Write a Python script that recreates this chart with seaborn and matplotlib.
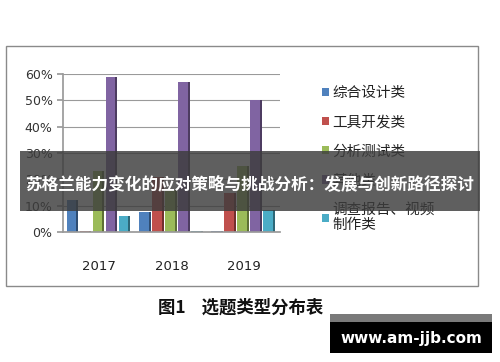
import matplotlib
matplotlib.use("Agg")
import matplotlib.pyplot as plt
import seaborn as sns
import pandas as pd
from matplotlib.patches import Rectangle

years = ["2017", "2018", "2019"]
categories = ["综合设计类", "工具开发类", "分析测试类", "其他类", "调查报告、视频\n制作类"]
values = {
    "综合设计类": [12, 7.5, 0.3],
    "工具开发类": [0.5, 21, 15],
    "分析测试类": [23, 16, 25],
    "其他类": [59, 57, 50],
    "调查报告、视频\n制作类": [6, 0.3, 8.5],
}
colors = ["#4F81BD", "#C0504D", "#9BBB59", "#8064A2", "#4BACC6"]
yticks = [0, 10, 20, 30, 40, 50, 60]
caption = "图1    选题类型分布表"
banner_text = "苏格兰能力变化的应对策略与挑战分析：发展与创新路径探讨"
site = "www.am-jjb.com"

rows = []
for c in categories:
    for y, v in zip(years, values[c]):
        rows.append({"year": y, "cat": c, "val": v})
df = pd.DataFrame(rows)

sns.set_theme(style="white")
plt.rcParams["font.family"] = ["Noto Sans CJK SC", "DejaVu Sans"]

W, H = 500, 362
fig = plt.figure(figsize=(W / 100, H / 100), dpi=100)
fig.patch.set_facecolor("white")

def fx(px):
    return px / W

def fy(py):
    return 1 - py / H

# outer frame
fig.patches.append(Rectangle((fx(6), fy(286)), fx(478) - fx(6), fy(46) - fy(286),
                             transform=fig.transFigure, fill=False,
                             edgecolor="#8a8a8a", linewidth=1.0, zorder=0))

ax = fig.add_axes([fx(63), fy(232), fx(280) - fx(63), fy(74) - fy(232)])
sns.barplot(data=df, x="year", y="val", hue="cat", palette=colors, ax=ax,
            width=0.9, edgecolor="none", saturation=1, legend=True)
ax.set_ylim(0, 60)
ax.set_yticks(yticks)
ax.set_yticklabels([f"{t}%" for t in yticks], fontsize=9, color="#333333",
                   family="DejaVu Sans")
ax.tick_params(axis="x", labelsize=9.5, colors="#222222", pad=14)
for lab in ax.get_xticklabels():
    lab.set_family("DejaVu Sans")
ax.set_xlabel("")
ax.set_ylabel("")
ax.yaxis.grid(True, color="#9a9a9a", linewidth=0.8)
ax.set_axisbelow(True)
for s in ["top", "right"]:
    ax.spines[s].set_visible(False)
ax.spines["left"].set_color("#9a9a9a")
ax.spines["bottom"].set_color("#9a9a9a")
ax.tick_params(axis="y", length=4, color="#9a9a9a", left=True)

# narrow the bars and add a darker side face for a 3D-like look
bars = [p for p in ax.patches if isinstance(p, Rectangle)]
for p in bars:
    x0 = p.get_x(); w = p.get_width(); h = p.get_height()
    fw = w * 0.74
    sw = w * 0.16
    p.set_width(fw)
    fc = p.get_facecolor()
    dark = tuple(c * 0.6 for c in fc[:3]) + (1,)
    if h > 0:
        ax.add_patch(Rectangle((x0 + fw, 0), sw, h, facecolor=dark,
                               edgecolor="none", zorder=p.get_zorder()))

leg = ax.legend(loc="upper left", bbox_to_anchor=(fx(316), fy(80)),
                bbox_transform=fig.transFigure, frameon=False, fontsize=10.5,
                labelspacing=1.05, handlelength=0.5, handleheight=0.5,
                handletextpad=0.2, borderaxespad=0)
for t in leg.get_texts():
    t.set_color("#222222")
    t.set_linespacing(1.1)

# caption
fig.text(fx(241), fy(308), caption, ha="center", va="center", fontsize=12.5,
         color="#111111", fontweight="bold")

# banner overlay
fig.patches.append(Rectangle((fx(20), fy(211)), fx(480) - fx(20), fy(151) - fy(211),
                             transform=fig.transFigure, facecolor="#3c3c3c",
                             alpha=0.82, edgecolor="none", zorder=5))
fig.text(fx(250), fy(184), banner_text, ha="center", va="center", fontsize=12,
         color="white", fontweight="bold", zorder=6)

# site box
fig.patches.append(Rectangle((fx(330), fy(353)), fx(492) - fx(330), fy(314) - fy(353),
                             transform=fig.transFigure, facecolor="black",
                             edgecolor="none", zorder=5))
fig.patches.append(Rectangle((fx(330), fy(322)), fx(492) - fx(330), fy(314) - fy(322),
                             transform=fig.transFigure, facecolor="#7a7a7a",
                             edgecolor="none", zorder=6))
fig.text(fx(411), fy(338), site, ha="center", va="center", fontsize=11,
         color="white", fontweight="bold", family="DejaVu Sans", zorder=7)

fig.savefig("out.png", dpi=100, facecolor="white")
